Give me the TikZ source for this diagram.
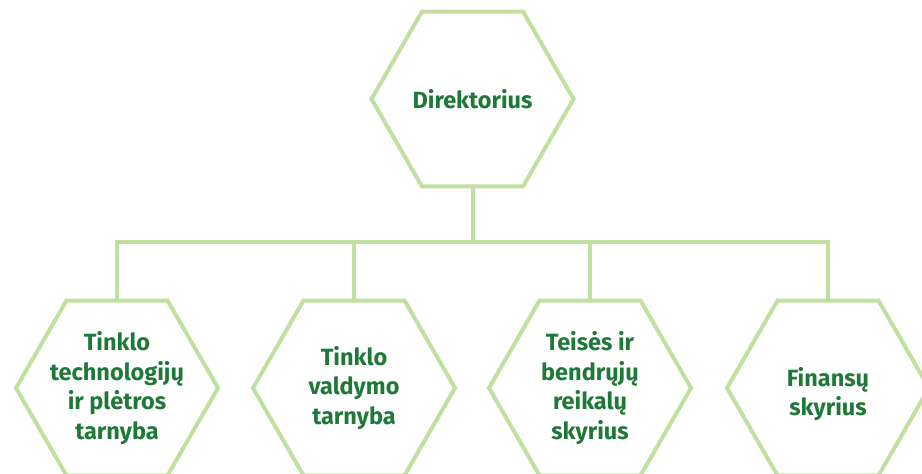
\documentclass[tikz,border=0pt]{standalone}
\usepackage{fontspec}
\setmainfont{Fira Sans}
\usetikzlibrary{shapes.geometric}
\definecolor{hexline}{RGB}{192,224,160}
\definecolor{hextext}{RGB}{30,120,55}
\begin{document}
\begin{tikzpicture}[x=1pt,y=-1pt,
  hex/.style={draw=hexline, line width=4pt, regular polygon, regular polygon sides=6,
    minimum size=202pt, inner sep=0pt, outer sep=0pt},
  lbl/.style={text=hextext, font=\fontsize{23.5}{29.5}\selectfont\bfseries, align=center, inner sep=0pt},
  conn/.style={draw=hexline, line width=4pt}]
\useasboundingbox (0,0) rectangle (922,474);
\node[hex] (d) at (472.5,99) {};
\node[lbl] at (d) {Direktorius};
\node[hex] (h1) at (117,388) {};
\node[lbl] at (h1) {Tinklo\\technologijų\\ir plėtros\\tarnyba};
\node[hex] (h2) at (354,388) {};
\node[lbl] at (h2) {Tinklo\\valdymo\\tarnyba};
\node[hex] (h3) at (590,388) {};
\node[lbl] at (h3) {Teisės ir\\bendrųjų\\reikalų\\skyrius};
\node[hex] (h4) at (828,388) {};
\node[lbl] at ([yshift=-6pt]h4) {Finansų\\skyrius};
\coordinate (bus) at (472.5,242);
\draw[conn] (d.south) -- (bus);
\draw[conn] (h1.north) -- (h1.north |- bus) -- (h4.north |- bus) -- (h4.north);
\draw[conn] (h2.north) -- (h2.north |- bus);
\draw[conn] (h3.north) -- (h3.north |- bus);
\end{tikzpicture}
\end{document}
